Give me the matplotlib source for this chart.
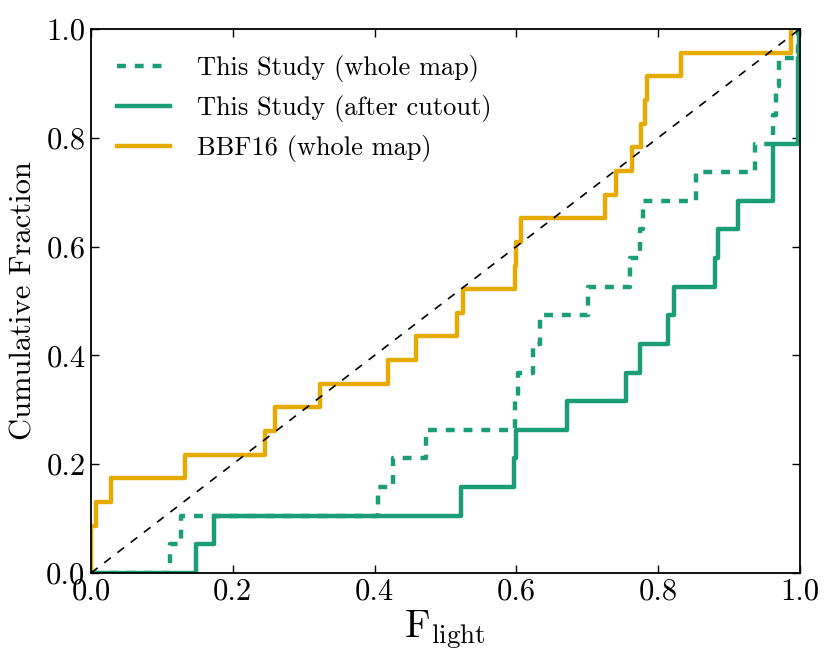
import numpy as np
import matplotlib
matplotlib.use("Agg")
import matplotlib.pyplot as plt

# F_light values (sorted)
whole_map = [0.111, 0.127, 0.405, 0.426, 0.473, 0.598, 0.602, 0.624, 0.633,
             0.701, 0.760, 0.774, 0.779, 0.854, 0.937, 0.962, 0.966, 0.971,
             0.998]
after_cutout = [0.148, 0.174, 0.522, 0.597, 0.599, 0.671, 0.755, 0.774,
                0.814, 0.823, 0.880, 0.884, 0.913, 0.962, 0.962, 0.998,
                0.998, 0.998, 0.999]
bbf16 = [0.0, 0.0, 0.007, 0.028, 0.133, 0.246, 0.259, 0.323, 0.419, 0.459,
         0.517, 0.525, 0.598, 0.600, 0.606, 0.725, 0.740, 0.763, 0.776,
         0.781, 0.784, 0.833, 0.988]

labels = ["This Study (whole map)", "This Study (after cutout)",
          "BBF16 (whole map)"]
teal = "#1b9e77"
gold = "#e6ab02"

plt.rcParams["font.family"] = "serif"
plt.rcParams["font.serif"] = ["cmr10"]
plt.rcParams["mathtext.fontset"] = "cm"
plt.rcParams["axes.unicode_minus"] = False


def cdf(vals):
    x = np.concatenate([[0.0], np.sort(vals)])
    y = np.arange(len(x)) / (len(x) - 1)
    return x, y


fig = plt.figure(figsize=(8.31, 6.67), dpi=100)
ax = fig.add_axes([0.1095, 0.141, 0.853, 0.8155])

x, y = cdf(whole_map)
ax.step(x, y, where="post", color=teal, lw=3.2, dashes=(2, 2), label=labels[0])
x, y = cdf(after_cutout)
ax.step(x, y, where="post", color=teal, lw=3.2, label=labels[1])
x, y = cdf(bbf16)
ax.step(x, y, where="post", color=gold, lw=3.2, label=labels[2])

ax.plot([0, 1], [0, 1], color="k", lw=1.2, dashes=(5, 5))

ax.set_xlim(0, 1)
ax.set_ylim(0, 1)
ax.set_xticks(np.arange(0, 1.01, 0.2))
ax.set_yticks(np.arange(0, 1.01, 0.2))
ax.tick_params(direction="in", top=True, right=True, length=6, width=1,
               labelsize=22, pad=4)
for s in ax.spines.values():
    s.set_linewidth(1.3)

ax.set_xlabel(r"$\mathrm{F_{light}}$", fontsize=28, labelpad=2)
ax.set_ylabel("Cumulative Fraction", fontsize=22, labelpad=6)

ax.legend(loc="upper left", frameon=False, fontsize=19, handlelength=2.0,
          borderaxespad=0.6, labelspacing=0.48, handletextpad=1.0)

fig.savefig("out.png", dpi=100)
